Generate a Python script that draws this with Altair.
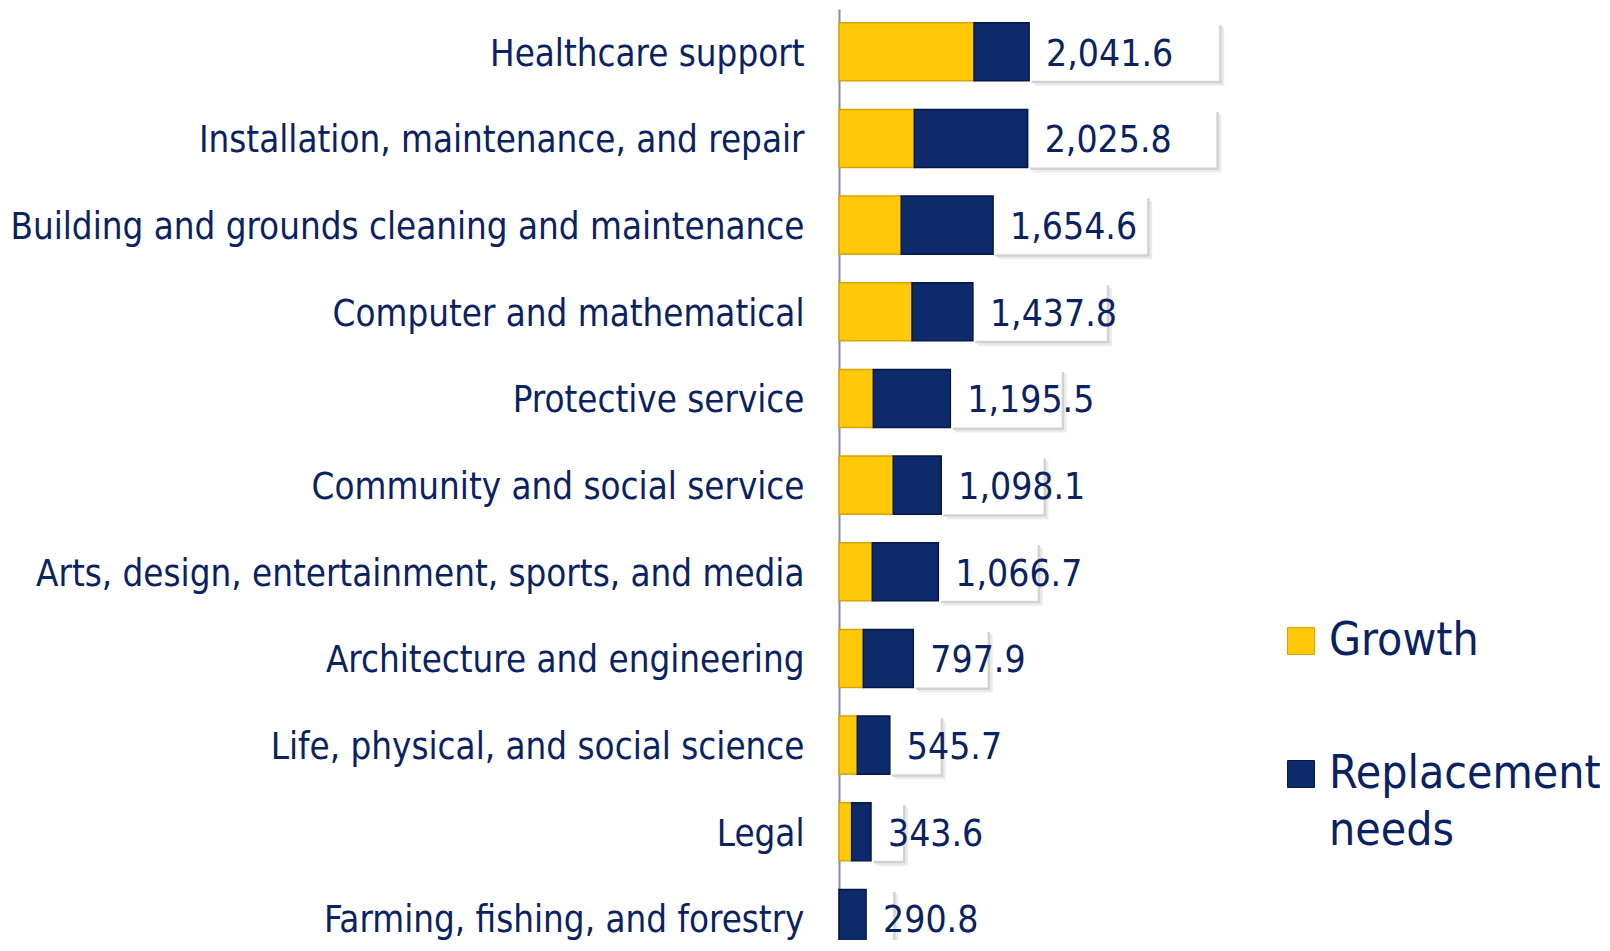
import altair as alt
import pandas as pd

categories = [
    "Healthcare support",
    "Installation, maintenance, and repair",
    "Building and grounds cleaning and maintenance",
    "Computer and mathematical",
    "Protective service",
    "Community and social service",
    "Arts, design, entertainment, sports, and media",
    "Architecture and engineering",
    "Life, physical, and social science",
    "Legal",
    "Farming, fishing, and forestry",
]
totals = [2041.6, 2025.8, 1654.6, 1437.8, 1195.5, 1098.1, 1066.7, 797.9, 545.7, 343.6, 290.8]
growth = [1450.0, 809.0, 669.0, 784.0, 369.0, 583.0, 358.0, 261.0, 197.0, 136.0, 0.0]
replacement = [591.6, 1216.8, 985.6, 653.8, 826.5, 515.1, 708.7, 536.9, 348.7, 207.6, 290.8]
series = ["Growth", "Replacement needs"]
series_colors = ["#FFC90A", "#0D2A6B"]
series_strokes = ["#D9A400", "#06174A"]

NAVY = "#0B2262"
FONT = "DejaVu Sans Condensed"

df = pd.DataFrame({"category": categories, "total": totals})
df["box_end"] = df["total"] * 2

long = pd.concat([
    pd.DataFrame({"category": categories, "series": series[0], "value": growth, "order": 0}),
    pd.DataFrame({"category": categories, "series": series[1], "value": replacement, "order": 1}),
])

yscale = alt.Scale(range=[0, 938.5], paddingInner=0.33, paddingOuter=0.0796, align=1)
xscale = alt.Scale(domain=[0, 8000])
yaxis = alt.Axis(title=None, labelFontSize=36.4, labelFont=FONT, labelColor=NAVY, labelLimit=0,
                 ticks=False, tickSize=0, labelPadding=35, labelOffset=3,
                 domainColor="#8A8AA2", domainWidth=2, grid=False)

Y = alt.Y("category:N", sort=categories, scale=yscale, axis=yaxis)
X = alt.X("total:Q", scale=xscale, axis=None)

base = alt.Chart(df)

shadow2 = base.mark_bar(color="#EBEBEB", xOffset=5, x2Offset=5, yOffset=5, y2Offset=5).encode(
    y=Y, x=X, x2="box_end:Q")
shadow1 = base.mark_bar(color="#D2D2D2", xOffset=2.5, x2Offset=2.5, yOffset=2.5, y2Offset=2.5).encode(
    y=Y, x=X, x2="box_end:Q")
box = base.mark_bar(color="white").encode(y=Y, x=X, x2="box_end:Q")

bars = alt.Chart(long).mark_bar(strokeWidth=1.5).encode(
    y=Y,
    x=alt.X("value:Q", stack="zero", scale=xscale, axis=None),
    color=alt.Color("series:N", scale=alt.Scale(domain=series, range=series_colors),
                    legend=alt.Legend(
                        title=None, orient="none", legendX=439, legendY=609,
                        symbolType="square", symbolSize=729, symbolStrokeWidth=1,
                        symbolStrokeColor="#8A8A8A", labelFontSize=46, labelFont=FONT,
                        labelColor=NAVY, labelLimit=600, labelOffset=5, rowPadding=87,
                        padding=0,
                        labelExpr="datum.label == 'Replacement needs' ? ['Replacement', 'needs'] : datum.label")),
    stroke=alt.Stroke("series:N", scale=alt.Scale(domain=series, range=series_strokes), legend=None),
    order=alt.Order("order:Q"),
)

labels = base.mark_text(align="left", baseline="middle", dx=17, dy=3, fontSize=37, font=FONT,
                        color=NAVY).encode(
    y=Y, x=X, text=alt.Text("total:Q", format=",.1f"))

chart = alt.layer(shadow2, shadow1, box, bars, labels).properties(
    width=745, height=931,
    autosize=alt.AutoSizeParams(type="none"),
    padding={"left": 831, "top": 1, "right": 16, "bottom": 0},
).configure(
    background="white",
    style={"guide-label": {"lineHeight": 57}},
).configure_view(stroke=None)

chart.save("out.html", embed_options={"renderer": "svg", "actions": False})
